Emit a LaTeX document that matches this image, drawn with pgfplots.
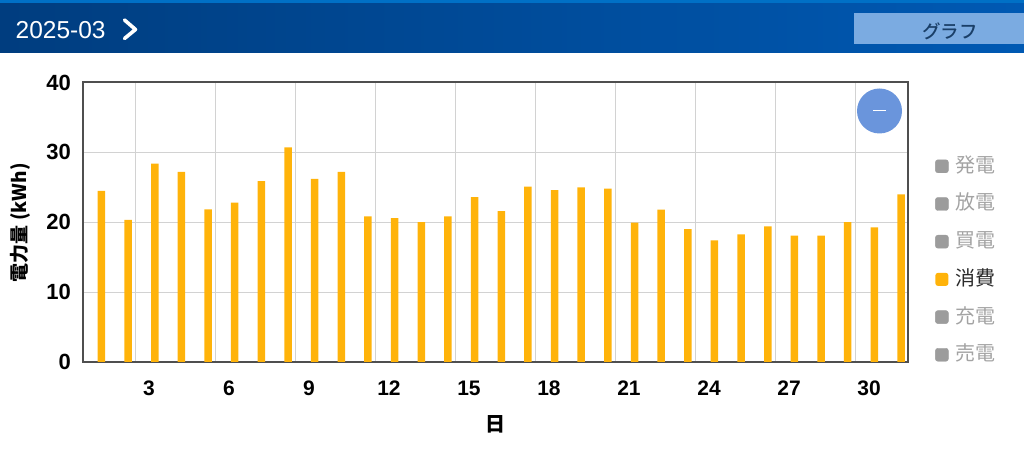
\documentclass[border=0pt]{standalone}
\usepackage{pgfplots}
\pgfplotsset{compat=1.18}
\usepackage{fontspec}
\setmainfont{Liberation Sans}
\newfontfamily\cjk{Noto Sans CJK JP}
\newfontfamily\cjkm{Noto Sans CJK JP Medium}
\definecolor{hdrL}{HTML}{003D7F}
\definecolor{hdrR}{HTML}{0059B3}
\definecolor{strip}{HTML}{0070C6}
\definecolor{btn}{HTML}{7BABE1}
\definecolor{btntxt}{HTML}{1A3F68}
\definecolor{fab}{HTML}{6A95DC}
\definecolor{barc}{HTML}{FFB30A}
\definecolor{gridc}{HTML}{D2D2D2}
\definecolor{axc}{HTML}{4F4F4F}
\definecolor{offs}{HTML}{9C9C9C}
\definecolor{offt}{HTML}{A3A3A3}
\definecolor{ont}{HTML}{2A2A2A}
\begin{document}
\begin{tikzpicture}
\path (0,0) rectangle (1024pt,452pt);
\begin{scope}[x=1pt,y=-1pt,shift={(0pt,452pt)}]
\shade[left color=hdrL,right color=hdrR] (0,0) rectangle (1024,53);
\fill[strip] (0,0) rectangle (1024,3.5);
\fill[btn] (854,13) rectangle (1024,44);
\node[anchor=west,inner sep=0pt,text=white,font=\fontsize{24.5}{24.5}\selectfont] at (15.5,30) {2025-03};
\draw[white,line width=3.6pt,line cap=round,line join=round] (124.5,20) -- (135.5,29.5) -- (124.5,38.5);
\node[inner sep=0pt,text=btntxt,font=\cjkm\fontsize{18.5}{18.5}\selectfont] at (950,31) {グラフ};
\end{scope}
\begin{axis}[
  at={(83pt,90pt)},anchor=south west,
  scale only axis,width=825pt,height=279.5pt,
  xmin=0.306,xmax=31.263,ymin=0,ymax=40,
  xtick={2.276,5.278,8.280,11.281,14.283,17.285,20.287,23.289,26.291,29.293},
  xticklabels={3,6,9,12,15,18,21,24,27,30},
  ytick={0,10,20,30,40},
  major tick length=0pt,
  grid=major,
  grid style={gridc,line width=1pt},
  axis line style={axc,line width=2pt},
  /pgf/number format/assume math mode=true,
  xticklabel style={font=\fontsize{21}{21}\selectfont\bfseries,xshift=13.5pt,yshift=-15pt,text height=15pt,text depth=0pt},
  yticklabel style={font=\fontsize{22}{22}\selectfont\bfseries,xshift=-8.5pt},
  xlabel={\cjk\bfseries 日},
  ylabel={\cjk\bfseries 電力量 (kWh)},
  every axis x label/.style={at={(rel axis cs:0.5,-0.222)},anchor=center,font=\fontsize{20}{20}\selectfont},
  every axis y label/.style={at={(rel axis cs:-0.0764,0.498)},anchor=center,rotate=90,font=\fontsize{19}{19}\selectfont},
  legend style={at={(rel axis cs:1.0327,-0.0107)},anchor=south west,draw=none,fill=none,inner sep=0pt,
    row sep=17.7pt,font=\cjk\fontsize{20}{20}\selectfont,
    nodes={inner sep=0pt,text height=16pt,text depth=4pt},
    /tikz/every odd column/.style={column sep=7pt}},
  legend cell align=left,
]
\addlegendimage{legend image code/.code={\fill[offs,rounded corners=2.5pt] (0pt,-6.5pt) rectangle (13pt,6.5pt);}}
\addlegendentry{\textcolor{offt}{発電}}
\addlegendimage{legend image code/.code={\fill[offs,rounded corners=2.5pt] (0pt,-6.5pt) rectangle (13pt,6.5pt);}}
\addlegendentry{\textcolor{offt}{放電}}
\addlegendimage{legend image code/.code={\fill[offs,rounded corners=2.5pt] (0pt,-6.5pt) rectangle (13pt,6.5pt);}}
\addlegendentry{\textcolor{offt}{買電}}
\addplot[ybar,bar width=7.5pt,fill=barc,draw=none,
  legend image code/.code={\fill[barc,rounded corners=2.5pt] (0pt,-6.5pt) rectangle (13pt,6.5pt);}]
 coordinates {
 (1,24.5)(2,20.35)(3,28.4)(4,27.2)(5,21.85)(6,22.8)(7,25.9)(8,30.7)(9,26.2)(10,27.2)
 (11,20.85)(12,20.6)(13,20.0)(14,20.85)(15,23.6)(16,21.6)(17,25.1)(18,24.6)(19,25.0)(20,24.8)
 (21,19.95)(22,21.8)(23,19.0)(24,17.4)(25,18.25)(26,19.4)(27,18.1)(28,18.1)(29,20.0)(30,19.25)(31,24.0)};
\addlegendentry{\textcolor{ont}{消費}}
\addlegendimage{legend image code/.code={\fill[offs,rounded corners=2.5pt] (0pt,-6.5pt) rectangle (13pt,6.5pt);}}
\addlegendentry{\textcolor{offt}{充電}}
\addlegendimage{legend image code/.code={\fill[offs,rounded corners=2.5pt] (0pt,-6.5pt) rectangle (13pt,6.5pt);}}
\addlegendentry{\textcolor{offt}{売電}}
\end{axis}
\begin{scope}[x=1pt,y=-1pt,shift={(0pt,452pt)}]
\fill[fab] (879.5,111) circle[radius=22.5];
\draw[white,line width=1.3pt] (873,110.5) -- (886,110.5);
\end{scope}
\end{tikzpicture}
\end{document}
